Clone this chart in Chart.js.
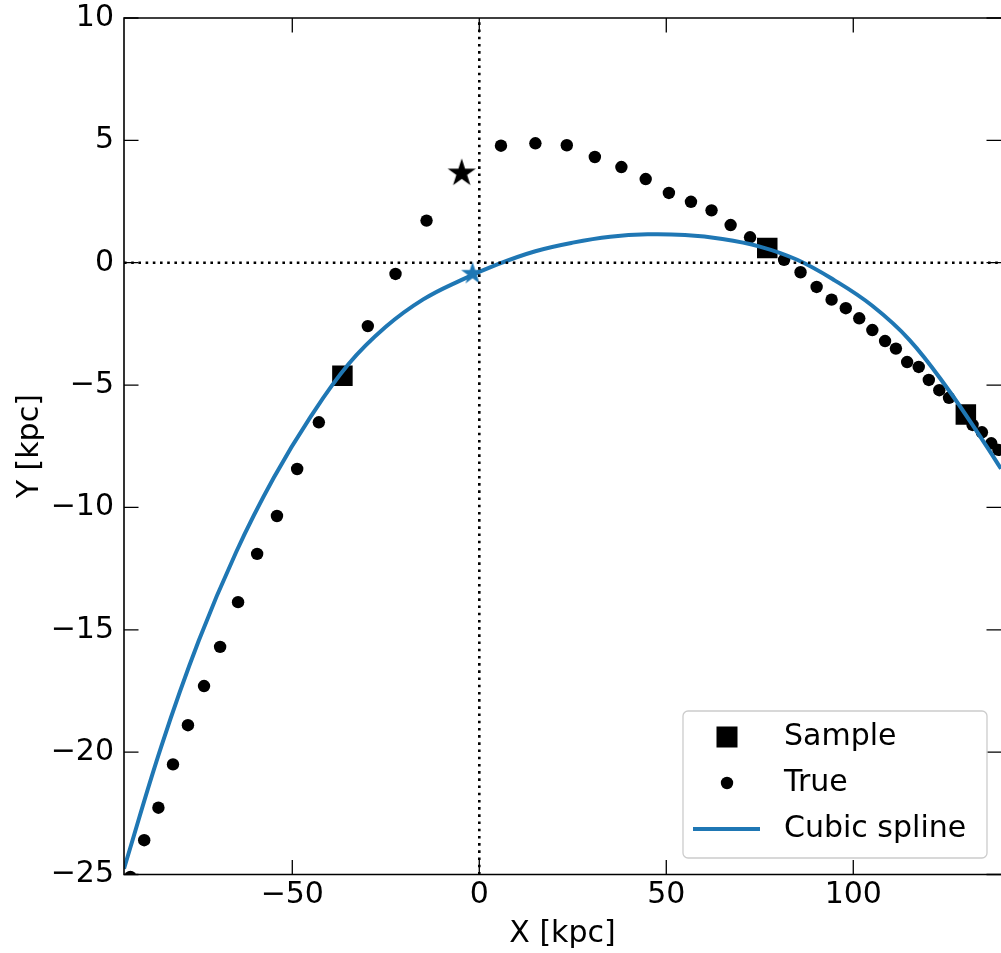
<!DOCTYPE html>
<html>
<head>
<meta charset="utf-8">
<script src="https://cdn.jsdelivr.net/npm/chart.js@4.4.1/dist/chart.umd.min.js"></script>
<style>
  html, body { margin: 0; padding: 0; background: #fff; }
  #wrap { width: 1001px; height: 953px; }
</style>
</head>
<body>
<div id="wrap"><canvas id="orbit" width="1001" height="953"></canvas></div>
<script>
// true orbit (X, Y in kpc)
var trueX = [-93.3, -89.6, -85.8, -81.9, -77.9, -73.6, -69.3, -64.5, -59.4, -54.1, -48.7, -42.9,
             -29.8, -22.4, -14.1, 5.8, 15.0, 23.4, 30.9, 38.0, 44.5, 50.7, 56.6, 62.1, 67.2, 72.4,
             81.5, 85.9, 90.2, 94.2, 98.0, 101.6, 105.1, 108.5, 111.4, 114.4, 117.5, 120.2, 123.0,
             125.6, 131.9, 134.4, 136.9, 138.8];
var trueY = [-25.1, -23.6, -22.27, -20.5, -18.9, -17.3, -15.7, -13.87, -11.9, -10.35, -8.43, -6.52,
             -2.59, -0.46, 1.72, 4.78, 4.88, 4.8, 4.32, 3.91, 3.42, 2.85, 2.49, 2.14, 1.54, 1.04,
             0.12, -0.39, -0.99, -1.51, -1.86, -2.27, -2.75, -3.2, -3.51, -4.06, -4.26, -4.79, -5.21,
             -5.52, -6.63, -6.93, -7.38, -7.65];

// sampled points
var sampleX = [-36.6, 77.0, 130.1];
var sampleY = [-4.62, 0.60, -6.20];

// cubic spline through the samples (read every 10 kpc)
var splineX = [-95, -85, -75, -65, -55, -45, -35, -25, -15, -5, 5, 15,
               25, 35, 45, 55, 65, 75, 85, 95, 105, 115, 125, 135, 139.5];
var splineY = [-24.76, -19.75, -15.44, -11.82, -8.8, -6.27, -4.15, -2.62, -1.5, -0.72, -0.06, 0.47,
               0.82, 1.06, 1.16, 1.13, 0.97, 0.66, 0.12, -0.72, -1.75, -3.15, -5.1, -7.35, -8.42];

// present position: true orbit (black star) and spline (blue star)
var starTrue = [-4.7, 3.66];
var starSpline = [-1.8, -0.45];

// axes
var xTicks = [-50, 0, 50, 100];
var yTicks = [-25, -20, -15, -10, -5, 0, 5, 10];
var xLimits = [-95, 139.5];
var yLimits = [-25, 10];

var blue = '#1f77b4';
var FONT = 'DejaVu Sans';

function pts(xs, ys) {
    return xs.map(function (x, i) { return {x: x, y: ys[i]}; });
}

// matplotlib style filled star marker
function makeStar(R, color) {
    var c = document.createElement('canvas');
    var s = Math.ceil(R * 2 + 2);
    c.width = s; c.height = s;
    var g = c.getContext('2d');
    g.fillStyle = color;
    g.beginPath();
    for (var i = 0; i < 10; i++) {
        var r = i % 2 ? R * 0.381966 : R;
        var a = -Math.PI / 2 + i * Math.PI / 5;
        g.lineTo(s / 2 + r * Math.cos(a), s / 2 + r * Math.sin(a));
    }
    g.closePath();
    g.fill();
    return c;
}

function minusSign(v) {
    return String(v).replace('-', '\u2212');
}

// spines + inward ticks on all four sides
var frame = {
    id: 'frame',
    afterDatasetsDraw: function (chart) {
        var ctx = chart.ctx, a = chart.chartArea;
        var xs = chart.scales.x, ys = chart.scales.y;
        var tl = 14.5;
        ctx.save();
        ctx.strokeStyle = '#000';
        ctx.lineWidth = 1.3;
        ctx.beginPath();
        xs.ticks.forEach(function (t) {
            var px = xs.getPixelForValue(t.value);
            ctx.moveTo(px, a.bottom); ctx.lineTo(px, a.bottom - tl);
            ctx.moveTo(px, a.top); ctx.lineTo(px, a.top + tl);
        });
        ys.ticks.forEach(function (t) {
            var py = ys.getPixelForValue(t.value);
            ctx.moveTo(a.left, py); ctx.lineTo(a.left + tl, py);
            ctx.moveTo(a.right, py); ctx.lineTo(a.right - tl, py);
        });
        ctx.stroke();
        ctx.lineWidth = 1.6;
        ctx.beginPath();
        ctx.moveTo(a.right + 1, a.top);
        ctx.lineTo(a.left, a.top);
        ctx.lineTo(a.left, a.bottom);
        ctx.lineTo(a.right + 1, a.bottom);
        ctx.stroke();
        ctx.restore();
    }
};

// legend box in the lower right corner
var legendBox = {
    id: 'legendBox',
    afterDraw: function (chart) {
        var ctx = chart.ctx, a = chart.chartArea;
        var w = 304, h = 147;
        var x0 = a.right - 14 - w, y0 = a.bottom - 16.5 - h;
        ctx.save();
        ctx.fillStyle = 'rgba(255,255,255,0.8)';
        ctx.strokeStyle = '#cccccc';
        ctx.lineWidth = 1.3;
        ctx.beginPath();
        ctx.roundRect(x0, y0, w, h, 5);
        ctx.fill();
        ctx.stroke();

        var mx = x0 + 44, tx = x0 + 101;
        var rows = [y0 + 26, y0 + 72, y0 + 118];
        // Sample
        ctx.fillStyle = '#000';
        ctx.fillRect(mx - 10.5, rows[0] - 10.5, 21, 21);
        // True
        ctx.beginPath();
        ctx.arc(mx, rows[1], 6.2, 0, Math.PI * 2);
        ctx.fill();
        // Cubic spline
        ctx.strokeStyle = blue;
        ctx.lineWidth = 4;
        ctx.beginPath();
        ctx.moveTo(x0 + 10, rows[2]);
        ctx.lineTo(x0 + 77, rows[2]);
        ctx.stroke();

        ctx.fillStyle = '#000';
        ctx.font = '30px "' + FONT + '"';
        ctx.textBaseline = 'middle';
        ctx.textAlign = 'left';
        ctx.fillText('Sample', tx, rows[0]);
        ctx.fillText('True', tx, rows[1]);
        ctx.fillText('Cubic spline', tx, rows[2]);
        ctx.restore();
    }
};

var ctx = document.getElementById('orbit');

var orbitChart = new Chart(ctx, {
    type: 'scatter',
    data: {
        datasets: [{
            label: 'zero-y',
            data: pts(xLimits, [0, 0]),
            showLine: true,
            borderColor: '#000',
            borderWidth: 2.6,
            borderDash: [2.6, 4.6],
            pointRadius: 0,
            order: 0,
            clip: 0
        }, {
            label: 'zero-x',
            data: pts([0, 0], yLimits),
            showLine: true,
            borderColor: '#000',
            borderWidth: 2.6,
            borderDash: [2.6, 4.6],
            pointRadius: 0,
            order: 0,
            clip: 0
        }, {
            label: 'spline now',
            data: pts([starSpline[0]], [starSpline[1]]),
            pointStyle: makeStar(12, blue),
            order: 1,
            clip: 0
        }, {
            label: 'true now',
            data: pts([starTrue[0]], [starTrue[1]]),
            pointStyle: makeStar(14.8, '#000'),
            order: 2,
            clip: 0
        }, {
            label: 'Cubic spline',
            data: pts(splineX, splineY),
            showLine: true,
            borderColor: blue,
            borderWidth: 4,
            pointRadius: 0,
            tension: 0.4,
            order: 3,
            clip: 0
        }, {
            label: 'Sample',
            data: pts(sampleX, sampleY),
            pointStyle: 'rect',
            pointRadius: 14.5,
            backgroundColor: '#000',
            borderWidth: 0,
            order: 4,
            clip: 0
        }, {
            label: 'True',
            data: pts(trueX, trueY),
            pointStyle: 'circle',
            pointRadius: 6.2,
            backgroundColor: '#000',
            borderWidth: 0,
            order: 5,
            clip: 0
        }]
    },
    options: {
        responsive: false,
        animation: false,
        events: [],
        layout: { autoPadding: false, padding: { top: 18, right: 0, left: 0, bottom: 0 } },
        plugins: {
            legend: { display: false },
            tooltip: { enabled: false }
        },
        scales: {
            x: {
                type: 'linear',
                min: xLimits[0],
                max: xLimits[1],
                afterBuildTicks: function (s) { s.ticks = xTicks.map(function (v) { return {value: v}; }); },
                afterFit: function (s) { s.height = 78.5; s.paddingLeft = 0; s.paddingRight = 0; },
                grid: { display: false, drawTicks: false },
                border: { display: false },
                ticks: {
                    color: '#000',
                    padding: 3,
                    font: { family: FONT, size: 30 },
                    callback: minusSign
                },
                title: {
                    display: true,
                    text: 'X [kpc]',
                    color: '#000',
                    font: { family: FONT, size: 30 },
                    padding: { top: 0, bottom: 1 }
                }
            },
            y: {
                type: 'linear',
                min: yLimits[0],
                max: yLimits[1],
                afterBuildTicks: function (s) { s.ticks = yTicks.map(function (v) { return {value: v}; }); },
                afterFit: function (s) { s.width = 124; s.paddingTop = 0; s.paddingBottom = 0; },
                grid: { display: false, drawTicks: false },
                border: { display: false },
                ticks: {
                    color: '#000',
                    padding: 10,
                    font: { family: FONT, size: 30 },
                    callback: minusSign
                },
                title: {
                    display: true,
                    text: 'Y [kpc]',
                    color: '#000',
                    font: { family: FONT, size: 30 },
                    padding: { top: 12, bottom: 0 }
                }
            }
        }
    },
    plugins: [frame, legendBox]
});
</script>
</body>
</html>
